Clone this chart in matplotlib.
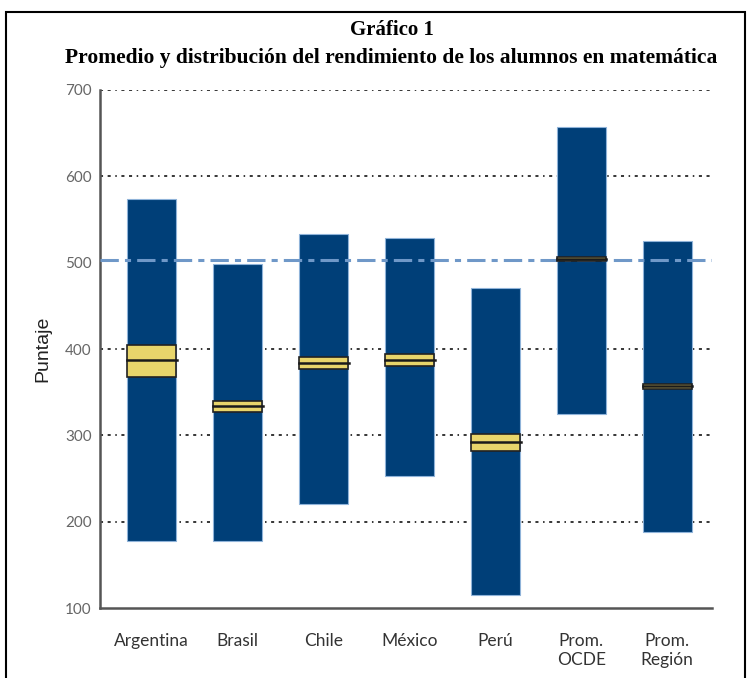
import matplotlib
matplotlib.use("Agg")
import matplotlib.pyplot as plt
from matplotlib.patches import Rectangle
import numpy as np

# data
paises = ["Argentina", "Brasil", "Chile", "México", "Perú", "Prom.\nOCDE", "Prom.\nRegión"]
minimo = [178, 178, 221, 253, 115, 325, 188]
maximo = [574, 499, 533, 529, 471, 657, 525]
media = [387, 334, 384, 387, 292, 504, 357]
ic_bajo = [368, 327, 377, 380, 282, 502, 354]
ic_alto = [405, 340, 391, 394, 301, 506, 360]
ref_ocde = 503

azul = "#003f78"
amarillo = "#e8d56b"

fig = plt.figure(figsize=(7.5, 6.78), dpi=100)
ax = fig.add_axes([0.1333, 0.1032, 0.8157, 0.7641])

x = np.arange(len(paises))
w = 0.57

# grid lines
for v in [200, 300, 400, 600, 700]:
    ax.axhline(v, color="black", lw=1.1, ls=(0, (2, 3, 2, 3, 1, 3)), zorder=1)

ax.bar(x, np.array(maximo) - np.array(minimo), bottom=minimo, width=w,
       color=azul, edgecolor="#8fb3d9", linewidth=0.8, zorder=2)

ax.axhline(ref_ocde, color="#6f98c8", lw=2.2, ls=(0, (6, 2, 2, 2)), zorder=3)

ax.bar(x, np.array(ic_alto) - np.array(ic_bajo), bottom=ic_bajo, width=w,
       color=amarillo, edgecolor="#222222", linewidth=1.2, zorder=4)
for xi, m in zip(x, media):
    ax.plot([xi - w / 2, xi + w / 2 + 0.01], [m, m], color="#1a1a1a", lw=1.8, zorder=5)

ax.set_xlim(-0.6, 6.52)
ax.set_ylim(100, 700)
ax.set_yticks([100, 200, 300, 400, 500, 600, 700])
ax.set_yticklabels([100, 200, 300, 400, 500, 600, 700], family="Lato")
ax.set_xticks(x)
ax.set_xticklabels(paises, fontsize=12.5, color="#333333", family="Lato")
ax.tick_params(axis="y", length=0, labelsize=11, labelcolor="#666666", pad=6)
ax.tick_params(axis="x", length=0, pad=18)
ax.set_ylabel("Puntaje", fontsize=14, color="#222222", labelpad=10, family="Liberation Sans")

for s in ["top", "right"]:
    ax.spines[s].set_visible(False)
for s in ["left", "bottom"]:
    ax.spines[s].set_color("#555555")
    ax.spines[s].set_linewidth(1.8)

fig.text(0.522, 0.956, "Gráfico 1", ha="center", va="center", fontsize=15,
         fontweight="bold", family="Liberation Serif")
fig.text(0.522, 0.914, "Promedio y distribución del rendimiento de los alumnos en matemática",
         ha="center", va="center", fontsize=15.5, fontweight="bold", family="Liberation Serif")

fig.patches.append(Rectangle((6 / 750, -0.05), 739 / 750, 1.05 - 12 / 678,
                             transform=fig.transFigure, fill=False,
                             edgecolor="black", linewidth=1.5))

fig.savefig("out.png", dpi=100)
